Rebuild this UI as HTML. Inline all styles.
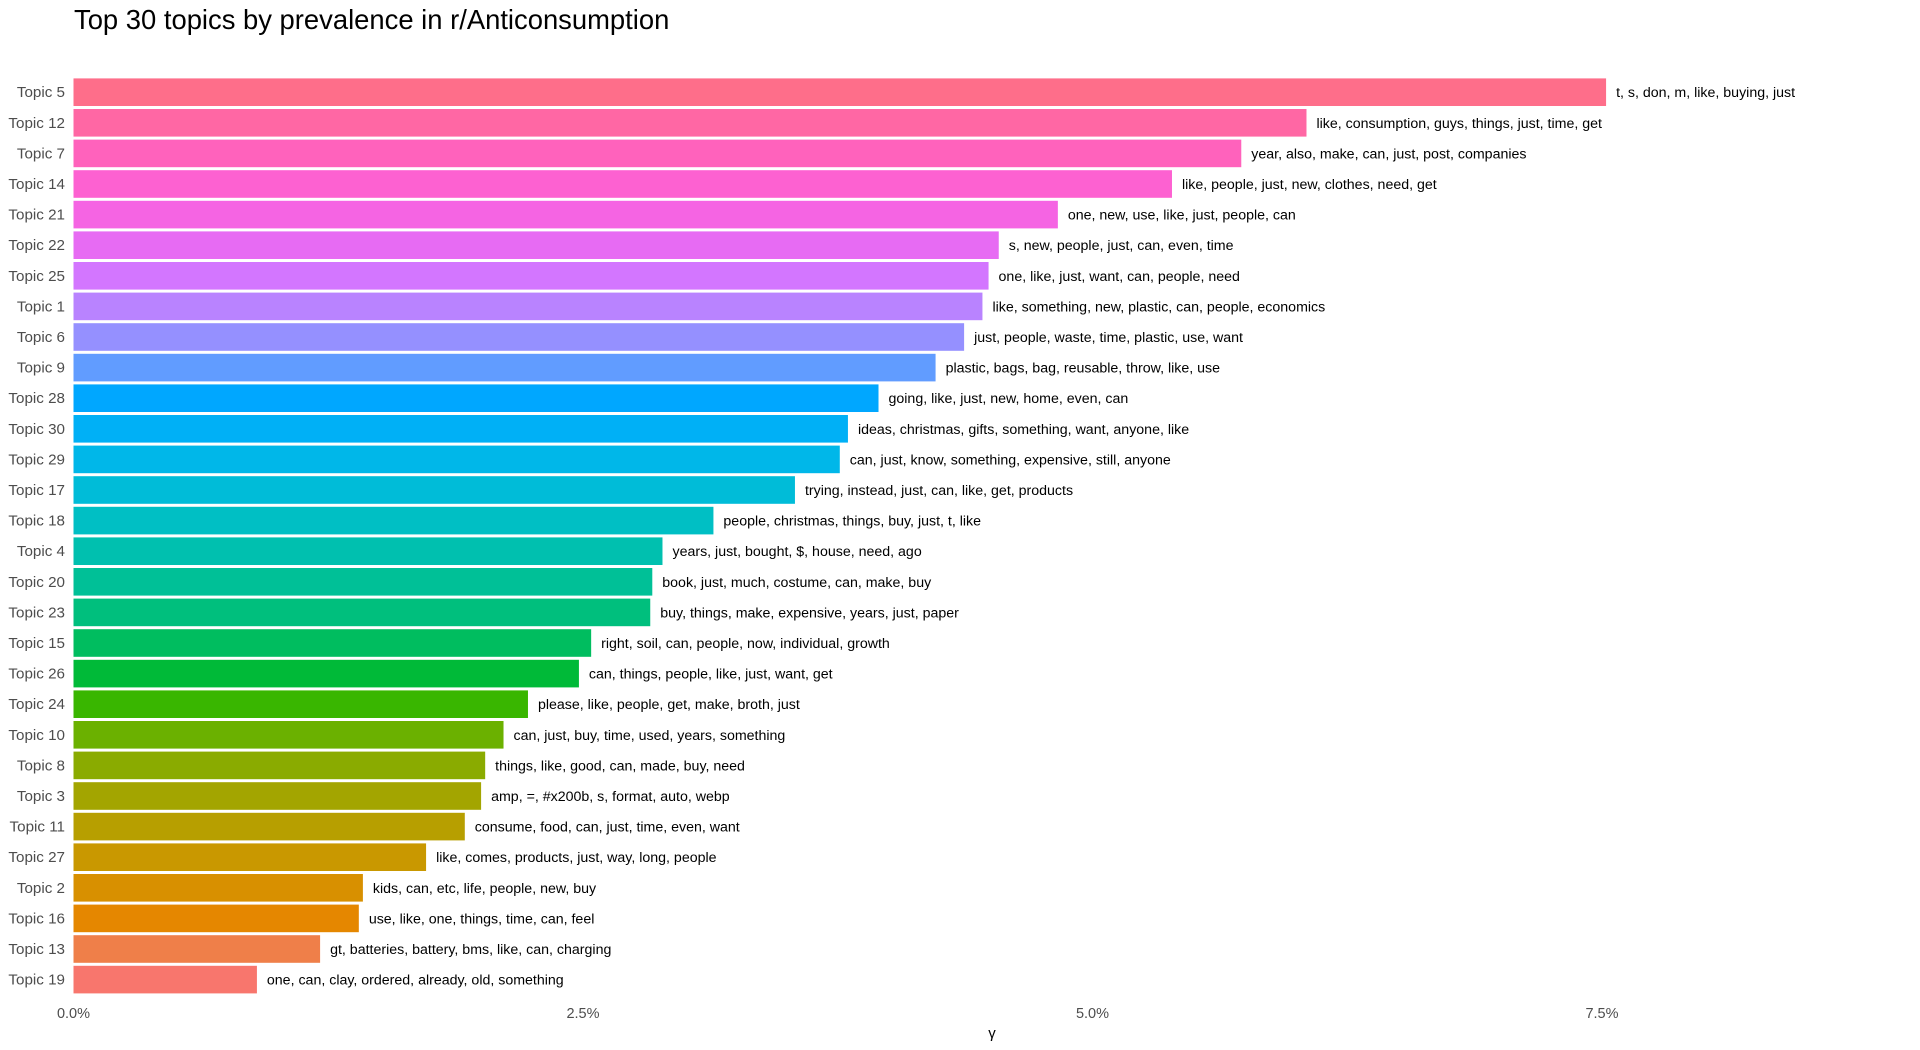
<!DOCTYPE html>
<html><head><meta charset="utf-8"><style>
html,body{margin:0;padding:0;background:#fff;}
svg{display:block;font-family:"Liberation Sans",Arial,sans-serif;}
</style></head><body>
<svg id="chart" width="1920" height="1050" viewBox="0 0 1920 1050">
<text x="74" y="29" font-size="27.4" fill="#000">Top 30 topics by prevalence in r/Anticonsumption</text>
<g id="bars"></g>
<g id="ylabels"></g>
<g id="xaxis"></g>
<text x="992" y="1038" font-size="15" fill="#000" text-anchor="middle">γ</text>
</svg>
<script>
const topics = ["Topic 5","Topic 12","Topic 7","Topic 14","Topic 21","Topic 22","Topic 25","Topic 1","Topic 6","Topic 9","Topic 28","Topic 30","Topic 29","Topic 17","Topic 18","Topic 4","Topic 20","Topic 23","Topic 15","Topic 26","Topic 24","Topic 10","Topic 8","Topic 3","Topic 11","Topic 27","Topic 2","Topic 16","Topic 13","Topic 19"];
const gammaValues = [7.52,6.05,5.73,5.39,4.83,4.54,4.49,4.46,4.37,4.23,3.95,3.80,3.76,3.54,3.14,2.89,2.84,2.83,2.54,2.48,2.23,2.11,2.02,2.00,1.92,1.73,1.42,1.40,1.21,0.90];
const topTerms = ["t, s, don, m, like, buying, just","like, consumption, guys, things, just, time, get","year, also, make, can, just, post, companies","like, people, just, new, clothes, need, get","one, new, use, like, just, people, can","s, new, people, just, can, even, time","one, like, just, want, can, people, need","like, something, new, plastic, can, people, economics","just, people, waste, time, plastic, use, want","plastic, bags, bag, reusable, throw, like, use","going, like, just, new, home, even, can","ideas, christmas, gifts, something, want, anyone, like","can, just, know, something, expensive, still, anyone","trying, instead, just, can, like, get, products","people, christmas, things, buy, just, t, like","years, just, bought, $, house, need, ago","book, just, much, costume, can, make, buy","buy, things, make, expensive, years, just, paper","right, soil, can, people, now, individual, growth","can, things, people, like, just, want, get","please, like, people, get, make, broth, just","can, just, buy, time, used, years, something","things, like, good, can, made, buy, need","amp, =, #x200b, s, format, auto, webp","consume, food, can, just, time, even, want","like, comes, products, just, way, long, people","kids, can, etc, life, people, new, buy","use, like, one, things, time, can, feel","gt, batteries, battery, bms, like, can, charging","one, can, clay, ordered, already, old, something"];
const xTicks = [0, 2.5, 5.0, 7.5];
const xTickLabels = ["0.0%","2.5%","5.0%","7.5%"];

const NS="http://www.w3.org/2000/svg";
const x0=73.5, pxPerUnit=203.8;
const xScale=v=>x0+v*pxPerUnit;
const yCenter=i=>92.2+i*30.6;
const barH=27.6;

function hcl2hex(h,c,l){
  const hr=h*Math.PI/180;
  const L=l, U=c*Math.cos(hr), V=c*Math.sin(hr);
  const Xn=95.047,Yn=100,Zn=108.883;
  const un=4*Xn/(Xn+15*Yn+3*Zn), vn=9*Yn/(Xn+15*Yn+3*Zn);
  const Y = L>8 ? Yn*Math.pow((L+16)/116,3) : Yn*L/903.3;
  const u=U/(13*L)+un, v=V/(13*L)+vn;
  const X=9*Y*u/(4*v), Z=-X/3-5*Y+3*Y/v;
  const x=X/100,y=Y/100,z=Z/100;
  let r=3.2404542*x-1.5371385*y-0.4985314*z;
  let g=-0.9692660*x+1.8760108*y+0.0415560*z;
  let b=0.0556434*x-0.2040259*y+1.0572252*z;
  const gam=t=>{t=t<=0.0031308?12.92*t:1.055*Math.pow(t,1/2.4)-0.055;return Math.round(Math.max(0,Math.min(1,t))*255);};
  return "#"+[r,g,b].map(t=>gam(t).toString(16).padStart(2,"0")).join("");
}
const n=topics.length;
const bars=document.getElementById("bars"), yl=document.getElementById("ylabels"), xa=document.getElementById("xaxis");
for(let i=0;i<n;i++){
  const k=n-1-i;
  const hue=15+360*k/n;
  const r=document.createElementNS(NS,"rect");
  
  
  r.setAttribute("x",x0);r.setAttribute("y",yCenter(i)-barH/2);
  r.setAttribute("width",xScale(gammaValues[i])-x0);r.setAttribute("height",barH);
  r.setAttribute("fill",hcl2hex(hue,100,65));
  bars.appendChild(r);
  const t=document.createElementNS(NS,"text");
  
  
  t.setAttribute("x",xScale(gammaValues[i])+10);t.setAttribute("y",yCenter(i)+5);
  t.setAttribute("font-size","14.2");t.setAttribute("fill","#000");
  t.textContent=topTerms[i];bars.appendChild(t);
  const yt=document.createElementNS(NS,"text");
  
  
  yt.setAttribute("x",65);yt.setAttribute("y",yCenter(i)+5);
  yt.setAttribute("font-size","15.2");yt.setAttribute("fill","#4d4d4d");yt.setAttribute("text-anchor","end");
  yt.textContent=topics[i];yl.appendChild(yt);
}
xTicks.forEach((v,j)=>{
  const t=document.createElementNS(NS,"text");
  
  
  t.setAttribute("x",xScale(v));t.setAttribute("y",1018);
  t.setAttribute("font-size","14.5");t.setAttribute("fill","#4d4d4d");t.setAttribute("text-anchor","middle");
  t.textContent=xTickLabels[j];xa.appendChild(t);
});
</script>
</body></html>
